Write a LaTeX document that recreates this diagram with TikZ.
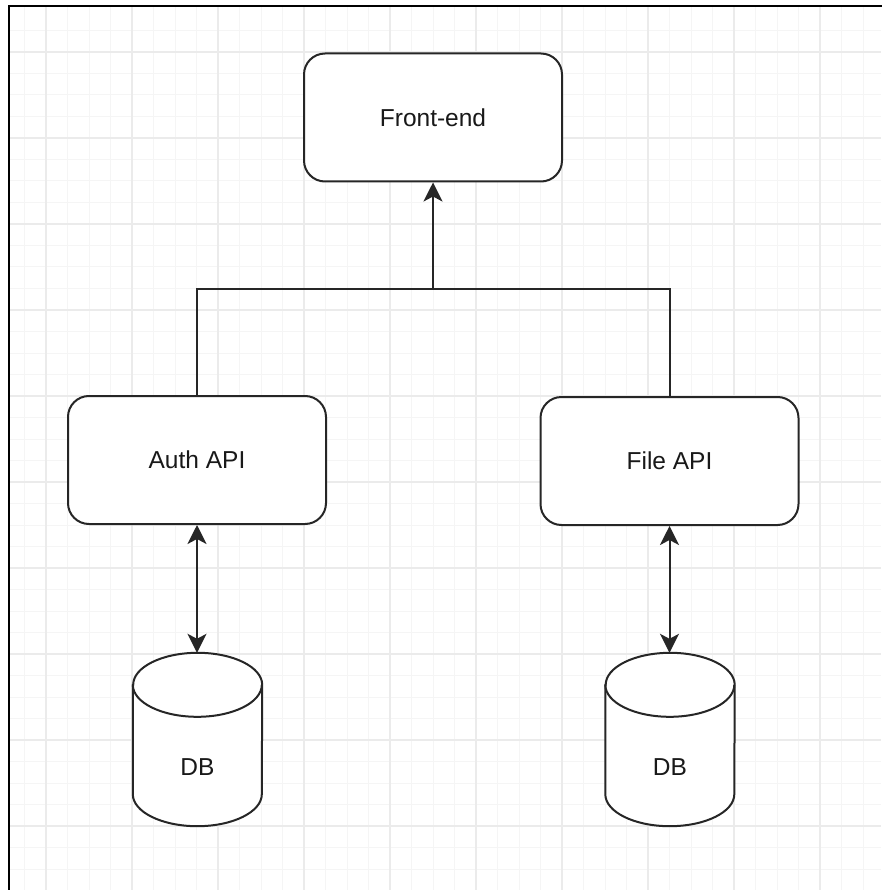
\documentclass[tikz,border=0pt]{standalone}
\usepackage{fontspec}
\setmainfont{Liberation Sans}
\usetikzlibrary{arrows.meta,calc}
\tikzset{
  minorgrid/.style={draw=black!4, line width=1pt},
  majorgrid/.style={draw=black!8, line width=1.2pt},
  frameline/.style={draw=black, line width=2pt},
  apibox/.style={draw=black!85, line width=2pt, rounded corners=21pt, fill=white,
    minimum width=258pt, minimum height=128pt, inner sep=0pt,
    font=\fontsize{24.5}{29}\selectfont, text=black!90},
  dbhold/.style={draw=none, minimum width=129pt, minimum height=173pt, inner sep=0pt},
  dblabel/.style={font=\fontsize{24.5}{29}\selectfont, text=black!90},
  cyl/.style={draw=black!85, line width=2pt, fill=white},
  conn/.style={draw=black!85, line width=2pt},
  tip/.style={-{Stealth[length=19pt,width=19pt,inset=5pt]}},
  twotip/.style={{Stealth[length=19pt,width=19pt,inset=5pt]}-{Stealth[length=19pt,width=19pt,inset=5pt]}}
}
\begin{document}
\begin{tikzpicture}[x=1pt,y=-1pt]
\useasboundingbox (0,0) rectangle (881,890);
\fill[white] (0,0) rectangle (881,890);
% grid
\foreach \i [evaluate=\i as \xx using 24.5+21.5*\i] in {0,...,40} {
  \path[minorgrid] (\xx,6) -- (\xx,890);
}
\foreach \i [evaluate=\i as \yy using 30.5+21.5*\i] in {0,...,40} {
  \path[minorgrid] (9,\yy) -- (881,\yy);
}
\foreach \i [evaluate=\i as \xx using 46+86*\i] in {0,...,9} {
  \path[majorgrid] (\xx,6) -- (\xx,890);
}
\foreach \i [evaluate=\i as \yy using 52+86*\i] in {0,...,9} {
  \path[majorgrid] (9,\yy) -- (881,\yy);
}
% frame
\path[frameline] (9,892) -- (9,6) -- (883,6);

% nodes
\node[apibox] (front) at (433,117.5) {Front-end};
\node[apibox] (auth) at (197,460) {Auth API};
\node[apibox] (file) at (669.5,461) {File API};
\node[dbhold] (dba) at (197.5,739.5) {};
\node[dbhold] (dbf) at (670,739.5) {};

% cylinders
\foreach \n in {dba,dbf} {
  \path[cyl] ($(\n.north west)+(0,32)$) -- ($(\n.south west)+(0,-32)$)
     arc[start angle=180, end angle=360, x radius=64.5, y radius=-32]
     -- ($(\n.north east)+(0,32)$)
     arc[start angle=0, end angle=180, x radius=64.5, y radius=-32] -- cycle;
  \path[cyl, fill=none] ($(\n.north west)+(0,32)$)
     arc[start angle=180, end angle=360, x radius=64.5, y radius=-32];
  \node[dblabel] at ($(\n.center)+(0,28)$) {DB};
}

% connectors
\coordinate (join) at (front.south |- 0,289);
\draw[conn, tip] (auth.north) -- (auth.north |- join) -- (join) -- (front.south);
\draw[conn] (file.north) -- (file.north |- join) -- (join);
\draw[conn, twotip] (auth.south) -- (auth.south |- dba.north);
\draw[conn, twotip] (file.south) -- (file.south |- dbf.north);
\end{tikzpicture}
\end{document}
